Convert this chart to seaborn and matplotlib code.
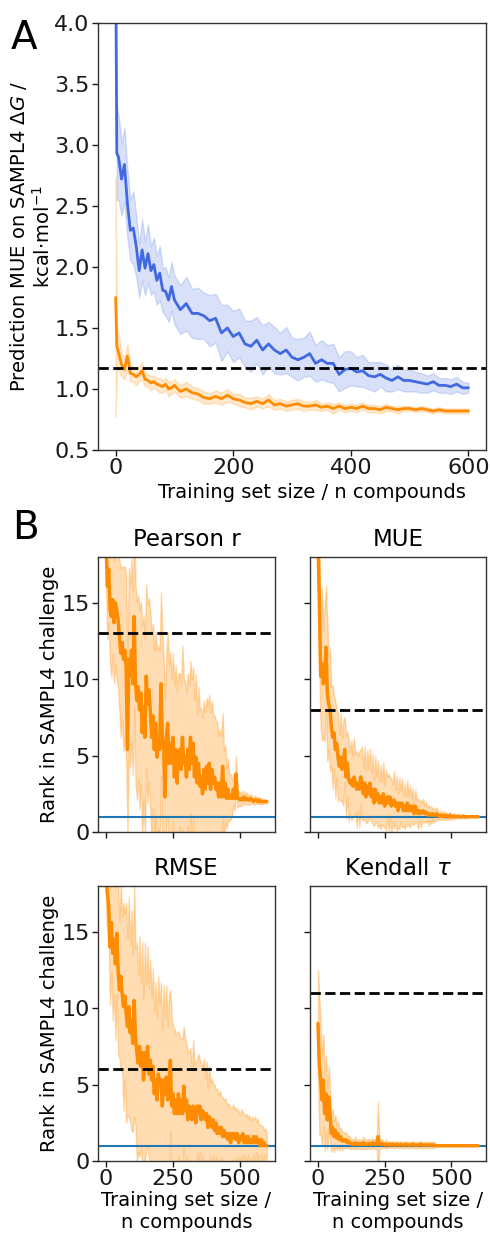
import pandas as pd
from matplotlib import pyplot as plt
import seaborn as sns
import numpy as np

# ---- panel A: MUE vs training set size ----
n_a = [0, 2] + list(range(5, 101, 5)) + list(range(110, 601, 10))

mue_blue = [4.6, 2.93, 2.90, 2.72, 2.84, 2.52, 2.30, 2.32, 2.17, 1.97, 2.14, 1.99,
            2.11, 1.97, 2.02, 1.89, 1.95, 1.81, 1.80, 1.73, 1.84, 1.73,
            1.65, 1.70, 1.62, 1.62, 1.60, 1.56, 1.58, 1.46, 1.50, 1.43,
            1.46, 1.37, 1.35, 1.40, 1.32, 1.37, 1.32, 1.29, 1.32, 1.26,
            1.24, 1.26, 1.29, 1.21, 1.24, 1.21, 1.21, 1.12, 1.16, 1.17,
            1.14, 1.15, 1.11, 1.10, 1.12, 1.09, 1.07, 1.10, 1.07, 1.07,
            1.06, 1.05, 1.04, 1.06, 1.03, 1.03, 1.02, 1.04, 1.01, 1.01]
sd_blue = [0.6, 0.38, 0.35, 0.3, 0.3, 0.28, 0.25, 0.3, 0.25, 0.22, 0.25, 0.22,
           0.24, 0.2, 0.22, 0.2, 0.22, 0.18, 0.2, 0.18, 0.2, 0.2,
           0.2, 0.22, 0.2, 0.21, 0.19, 0.21, 0.2, 0.23, 0.19, 0.21,
           0.2, 0.19, 0.21, 0.19, 0.2, 0.18, 0.19, 0.17, 0.19, 0.16,
           0.17, 0.16, 0.18, 0.15, 0.16, 0.15, 0.16, 0.14, 0.15, 0.14,
           0.12, 0.13, 0.11, 0.12, 0.1, 0.11, 0.09, 0.1, 0.09, 0.09,
           0.08, 0.08, 0.07, 0.07, 0.06, 0.06, 0.06, 0.06, 0.05, 0.04]
mue_orange = [1.75, 1.35, 1.30, 1.20, 1.16, 1.27, 1.13, 1.12, 1.10, 1.12, 1.15, 1.08,
              1.07, 1.05, 1.06, 1.04, 1.03, 1.02, 1.04, 1.00, 1.01, 1.03,
              0.98, 1.00, 0.97, 0.96, 0.93, 0.92, 0.94, 0.92, 0.95, 0.92,
              0.91, 0.89, 0.88, 0.90, 0.88, 0.91, 0.87, 0.88, 0.86, 0.87,
              0.88, 0.86, 0.86, 0.87, 0.85, 0.86, 0.84, 0.86, 0.84, 0.85,
              0.84, 0.86, 0.84, 0.84, 0.83, 0.85, 0.84, 0.83, 0.84, 0.84,
              0.83, 0.84, 0.83, 0.82, 0.83, 0.82, 0.82, 0.82, 0.82, 0.82]
sd_orange = [0.98, 0.18, 0.15, 0.1, 0.08, 0.1, 0.07, 0.06, 0.07, 0.06, 0.07, 0.06,
             0.05, 0.06, 0.05, 0.05, 0.06, 0.05, 0.05, 0.06, 0.05, 0.05,
             0.05, 0.06, 0.05, 0.05, 0.05, 0.04, 0.05, 0.05, 0.05, 0.04,
             0.05, 0.04, 0.05, 0.04, 0.04, 0.05, 0.04, 0.04, 0.04, 0.04,
             0.04, 0.04, 0.03, 0.04, 0.03, 0.03, 0.04, 0.03, 0.03, 0.03,
             0.03, 0.03, 0.03, 0.03, 0.03, 0.03, 0.02, 0.03, 0.02, 0.02,
             0.02, 0.02, 0.02, 0.02, 0.02, 0.02, 0.02, 0.02, 0.02, 0.02]
sampl4_best_mue = 1.175

# ---- panel B: rank in SAMPL4 challenge ----
n_b = list(range(0, 601, 5))

rank_pearson = [19.0, 16.1, 17.2, 14.5, 14.1, 15.2, 13.7, 15.0, 14.5, 13.9,
                12.8, 11.7, 12.4, 11.3, 11.9, 10.8, 5.4, 11.3, 10.2, 11.9,
                9.7, 14.1, 9.7, 8.6, 9.5, 8.0, 9.1, 6.5, 8.2, 6.2,
                10.2, 8.4, 9.3, 8.0, 6.2, 7.6, 5.4, 7.1, 4.9, 6.2,
                5.4, 9.7, 6.2, 5.4, 2.3, 6.2, 7.1, 4.5, 5.8, 4.5,
                6.2, 3.6, 5.4, 3.2, 4.9, 5.4, 4.1, 6.2, 4.5, 4.9,
                3.6, 5.4, 4.1, 6.2, 4.5, 5.8, 3.6, 4.9, 3.2, 4.5,
                3.0, 3.6, 2.5, 4.1, 2.8, 4.3, 3.2, 4.5, 2.8, 4.1,
                3.2, 3.6, 2.8, 3.2, 2.3, 3.2, 2.3, 4.3, 2.3, 3.2,
                2.2, 2.8, 2.2, 2.3, 2.2, 2.8, 2.2, 3.8, 2.2, 2.2,
                2.1, 2.2, 2.1, 2.3, 2.1, 2.2, 2.1, 2.1, 2.2, 2.1,
                2.0, 2.1, 2.1, 2.0, 2.1, 2.0, 2.0, 2.0, 2.0, 2.0, 2.0]
sd_pearson = [3, 3.5, 3.5, 3.5, 4, 3.5, 4, 4, 4.5, 4.5,
              5, 5.5, 5, 6, 5.5, 6, 5.5, 6, 6, 6,
              6, 6, 6.5, 6.5, 6, 6.5, 6, 7, 6, 6.5,
              6, 6.5, 6, 6.5, 7, 6, 6.5, 6, 7, 6,
              6.5, 6, 7, 6, 6.5, 5.5, 6, 6.5, 6, 5.5,
              5.5, 6, 5.5, 6, 5.5, 5, 5.5, 6, 5.5, 5,
              5.5, 5, 5.5, 5, 5.5, 5, 5, 5.5, 4.5, 5,
              5, 4.5, 5, 4.5, 5, 4.5, 5, 4.5, 5, 4.5,
              4.5, 4, 4.5, 4, 4, 3.5, 4, 3.5, 3, 2.5,
              2, 2, 1.5, 1.5, 1.2, 1, 0.8, 1.2, 0.6, 0.5,
              0.4, 0.5, 0.3, 0.4, 0.3, 0.4, 0.3, 0.3, 0.3, 0.2,
              0.2, 0.3, 0.2, 0.2, 0.2, 0.2, 0.2, 0.15, 0.15, 0.1, 0.1]

rank_mue = [19.0, 15.0, 10.2, 11.0, 9.7, 10.4, 12.1, 9.1, 8.4, 8.0,
            6.9, 6.2, 6.5, 5.4, 5.8, 4.9, 4.3, 4.9, 4.1, 4.5,
            5.4, 3.6, 4.5, 3.4, 3.2, 3.4, 3.0, 3.6, 3.2, 2.8,
            3.2, 2.8, 3.6, 3.2, 2.5, 3.2, 2.3, 3.0, 2.5, 3.2,
            2.3, 2.8, 1.9, 2.8, 2.1, 2.5, 1.9, 2.3, 1.9, 2.5,
            1.7, 2.1, 2.3, 1.9, 2.3, 1.7, 1.9, 2.1, 1.7, 1.9,
            1.4, 1.9, 1.7, 1.9, 1.4, 1.7, 1.4, 1.9, 1.4, 1.7,
            1.4, 1.7, 1.2, 1.7, 1.4, 1.2, 1.4, 1.2, 1.3, 1.4,
            1.2, 1.3, 1.2, 1.1, 1.2, 1.1, 1.2, 1.1, 1.1, 1.2,
            1.1, 1.0, 1.1, 1.0, 1.1, 1.0, 1.1, 1.0, 1.0, 1.1,
            1.0, 1.0, 1.05, 1.0, 1.0, 1.05, 1.0, 1.0, 1.0, 1.05,
            1.0, 1.0, 1.0, 1.0, 1.0, 1.0, 1.0, 1.0, 1.0, 1.0, 1.0]
sd_mue = [3, 4.5, 3.5, 5, 3.5, 4.5, 4, 4.5, 3, 4,
          2.6, 3.4, 2.4, 3.2, 2.2, 2.9, 2.1, 2.9, 2.0, 2.8,
          2.1, 2.7, 2.1, 2.7, 2.0, 2.6, 2.0, 2.6, 1.9, 2.5,
          1.8, 2.5, 1.8, 2.4, 1.7, 2.4, 1.7, 2.4, 1.6, 2.3,
          1.6, 2.3, 1.5, 2.2, 1.5, 2.2, 1.4, 2.1, 1.4, 2.1,
          1.4, 2.0, 1.3, 1.9, 1.3, 1.8, 1.2, 1.9, 1.1, 1.8,
          1.1, 1.7, 1.0, 1.6, 1.0, 1.5, 0.9, 1.5, 0.9, 1.4,
          0.8, 1.2, 0.7, 1.1, 0.7, 1.0, 0.6, 0.9, 0.6, 0.8,
          0.5, 0.7, 0.4, 0.7, 0.4, 0.6, 0.3, 0.5, 0.3, 0.4,
          0.3, 0.2, 0.3, 0.2, 0.3, 0.2, 0.2, 0.2, 0.2, 0.2,
          0.2, 0.1, 0.2, 0.1, 0.1, 0.1, 0.1, 0.1, 0.1, 0.1,
          0.1, 0.1, 0.1, 0.0, 0.0, 0.0, 0.0, 0.0, 0.0, 0.0, 0.0]

rank_rmse = [18.5, 17.5, 16.7, 14.0, 15.6, 13.6, 14.5, 12.9, 14.9, 12.5,
             11.2, 12.1, 11.0, 10.1, 10.8, 9.7, 8.8, 10.1, 8.4, 9.2,
             7.7, 10.5, 8.1, 7.1, 6.4, 7.5, 6.2, 7.1, 5.3, 7.1,
             6.2, 7.5, 5.7, 6.6, 5.3, 6.2, 4.4, 5.3, 4.0, 5.7,
             5.1, 5.3, 3.6, 5.3, 4.4, 5.5, 4.0, 4.9, 6.6, 3.6,
             4.4, 3.1, 4.0, 3.1, 4.4, 3.1, 4.0, 3.1, 4.9, 3.3,
             4.0, 2.7, 3.6, 3.1, 2.7, 3.6, 3.1, 2.5, 3.6, 3.1,
             3.6, 2.7, 3.3, 3.1, 2.7, 3.1, 2.2, 2.9, 2.7, 2.2,
             2.7, 2.0, 2.5, 1.8, 2.2, 1.8, 2.2, 1.6, 2.0, 1.6,
             1.8, 1.4, 1.8, 1.2, 1.8, 1.5, 1.8, 1.4, 1.8, 1.2,
             1.6, 1.4, 1.8, 1.2, 1.6, 1.2, 1.6, 1.2, 1.4, 1.2,
             1.6, 1.2, 1.6, 1.2, 1.4, 1.0, 1.4, 1.0, 1.2, 1.0, 1.0]
sd_rmse = [2, 2.8, 2.6, 3.8, 3.2, 4.4, 3.6, 5, 4, 5.5,
           4.5, 6.2, 5, 6.8, 5.4, 7.2, 5.8, 7.2, 5.8, 7.2,
           5.8, 7.6, 5.8, 7.2, 5.8, 7.2, 5.4, 7.2, 5.4, 7.2,
           5.4, 6.6, 5.6, 6.6, 5.4, 6.4, 5.4, 6.4, 5.4, 6.4,
           5.2, 6.4, 5, 6.2, 5, 6, 4.8, 6, 4.6, 5.8,
           4.4, 5.6, 4.3, 5.3, 4.1, 5.1, 4, 4.9, 3.9, 4.7,
           3.7, 4.5, 3.5, 4.3, 3.3, 4.3, 3.2, 4, 3.1, 3.9,
           3, 3.7, 2.9, 3.6, 2.7, 3.4, 2.6, 3.3, 2.4, 3.2,
           2.3, 3, 2.2, 2.9, 2.1, 2.8, 2, 2.6, 2, 2.5,
           1.9, 2.4, 1.8, 2.3, 1.7, 2.2, 1.6, 2.1, 1.5, 2.1,
           1.4, 2, 1.4, 1.9, 1.3, 1.9, 1.2, 1.8, 1.2, 1.7,
           1.1, 1.7, 1.0, 1.6, 1.0, 1.4, 0.9, 1.3, 0.8, 1.1, 0.8]

rank_kendall = [9.0, 6.2, 5.3, 4.0, 5.3, 3.1, 4.4, 2.7, 4.2, 3.1,
                1.8, 2.2, 1.6, 2.0, 1.5, 1.8, 1.4, 1.6, 1.3, 1.4,
                1.3, 1.4, 1.2, 1.3, 1.2,
                1.1, 1.15, 1.1, 1.2, 1.1, 1.1, 1.15, 1.1, 1.1, 1.2,
                1.1, 1.1, 1.1, 1.15, 1.1, 1.1, 1.2, 1.1, 1.1, 1.1,
                1.6,
                1.1, 1.1, 1.15, 1.1, 1.05, 1.1, 1.1, 1.05, 1.1, 1.05,
                1.1, 1.05, 1.05, 1.1, 1.05, 1.05, 1.1, 1.05, 1.05, 1.05,
                1.1, 1.05, 1.05, 1.05, 1.05, 1.1, 1.05, 1.05, 1.05, 1.05,
                1.05, 1.1, 1.05, 1.05, 1.05, 1.05, 1.05, 1.05, 1.05, 1.05,
                1.05, 1.05, 1.0,
                1.0, 1.0, 1.0, 1.0, 1.0, 1.0, 1.0, 1.0, 1.0, 1.0,
                1.0, 1.0, 1.0, 1.0, 1.0, 1.0, 1.0, 1.0, 1.0, 1.0,
                1.0, 1.0, 1.0, 1.0, 1.0, 1.0, 1.0, 1.0, 1.0, 1.0,
                1.0, 1.0]
sd_kendall = [3.5, 4.5, 3.5, 3, 3, 2.5, 2.5, 2, 2, 1.8,
              1.2, 1.2, 1, 1, 0.8, 0.8, 0.7, 0.6, 0.6, 0.5,
              0.5, 0.5, 0.4, 0.4, 0.4,
              0.3, 0.3, 0.3, 0.4, 0.3, 0.3, 0.3, 0.3, 0.3, 0.4,
              0.3, 0.3, 0.3, 0.3, 0.3, 0.3, 0.3, 0.3, 0.3, 0.3,
              2.3,
              0.3, 0.3, 0.3, 0.2, 0.2, 0.3, 0.2, 0.2, 0.2, 0.2,
              0.2, 0.2, 0.2, 0.2, 0.2, 0.2, 0.2, 0.2, 0.2, 0.2,
              0.2, 0.2, 0.2, 0.2, 0.2, 0.2, 0.2, 0.2, 0.2, 0.2,
              0.2, 0.2, 0.2, 0.2, 0.2, 0.2, 0.2, 0.2, 0.2, 0.2,
              0.2, 0.2, 0.1,
              0, 0, 0, 0, 0, 0, 0, 0, 0, 0,
              0, 0, 0, 0, 0, 0, 0, 0, 0, 0,
              0, 0, 0, 0, 0, 0, 0, 0, 0, 0,
              0, 0]

metric_titles = ['Pearson r', 'MUE', 'RMSE', r'Kendall $\tau$']
metric_ranks = [rank_pearson, rank_mue, rank_rmse, rank_kendall]
metric_sds = [sd_pearson, sd_mue, sd_rmse, sd_kendall]
baseline_ranks = [13, 8, 6, 11]
best_rank = 1

sns.set_style('ticks', {'axes.edgecolor': '0.2', 'xtick.color': '0.1', 'ytick.color': '0.1',
                        'text.color': 'black', 'axes.labelcolor': 'black'})
plt.rcParams['font.family'] = ['DejaVu Sans']
plt.rcParams['mathtext.fontset'] = 'dejavusans'
plt.rcParams['axes.linewidth'] = 1.0
plt.rcParams['xtick.major.size'] = 4
plt.rcParams['ytick.major.size'] = 4
plt.rcParams['xtick.major.width'] = 1.0
plt.rcParams['ytick.major.width'] = 1.0

TICK = 16
LABEL = 14
TITLE = 16.5

fig = plt.figure(figsize=(4.9, 12.35), dpi=100)

# panel A
axA = fig.add_axes([0.2, 0.6356, 0.792, 0.3458])
dfa = pd.DataFrame({'n': n_a, 'blue': mue_blue, 'sb': sd_blue,
                    'orange': mue_orange, 'so': sd_orange})
axA.fill_between(dfa['n'], dfa['blue'] - dfa['sb'], dfa['blue'] + dfa['sb'],
                 color='royalblue', alpha=0.2, lw=1)
sns.lineplot(data=dfa, x='n', y='blue', ax=axA, color='royalblue', lw=2)
axA.fill_between(dfa['n'], dfa['orange'] - dfa['so'], dfa['orange'] + dfa['so'],
                 color='darkorange', alpha=0.2, lw=1)
sns.lineplot(data=dfa, x='n', y='orange', ax=axA, color='darkorange', lw=2)
axA.axhline(sampl4_best_mue, color='black', ls='--', lw=2)
axA.set_ylim(0.5, 4.0)
axA.set_xlim(-30, 630)
axA.set_xticks([0, 200, 400, 600])
axA.set_yticks(np.arange(0.5, 4.01, 0.5))
axA.tick_params(labelsize=TICK, pad=2)
axA.set_xlabel('Training set size / n compounds', fontsize=LABEL, labelpad=3)
axA.xaxis.label.set_x(0.55)
axA.set_ylabel('Prediction MUE on SAMPL4 $\\Delta G$ /\nkcal$\\cdot$mol$^{-1}$',
               fontsize=LABEL, labelpad=0)
fig.text(0.022, 0.985, 'A', fontsize=28, va='top', ha='left')

# panel B
positions = [[0.2, 0.3263, 0.361, 0.2227], [0.6327, 0.3263, 0.359, 0.2227],
             [0.2, 0.0599, 0.361, 0.2227], [0.6327, 0.0599, 0.359, 0.2227]]
for i, (title, rank, sd, base) in enumerate(zip(metric_titles, metric_ranks,
                                                metric_sds, baseline_ranks)):
    ax = fig.add_axes(positions[i])
    dfb = pd.DataFrame({'n': n_b, 'rank': rank, 'sd': sd})
    ax.axhline(best_rank, color='tab:blue', lw=1.5)
    ax.fill_between(dfb['n'], dfb['rank'] - dfb['sd'], dfb['rank'] + dfb['sd'],
                    color='darkorange', alpha=0.3, lw=1)
    sns.lineplot(data=dfb, x='n', y='rank', ax=ax, color='darkorange', lw=2.5)
    ax.axhline(base, color='black', ls='--', lw=2)
    ax.set_xlim(-30, 630)
    ax.set_ylim(0, 18)
    ax.set_xticks([0, 250, 500])
    ax.set_yticks([0, 5, 10, 15])
    ax.tick_params(labelsize=TICK, pad=2)
    ax.set_title(title, fontsize=TITLE, pad=8)
    if i % 2 == 0:
        ax.set_ylabel('Rank in SAMPL4 challenge', fontsize=LABEL, labelpad=2)
    else:
        ax.set_ylabel('')
        ax.tick_params(labelleft=False)
    if i < 2:
        ax.set_xlabel('')
        ax.tick_params(labelbottom=False)
    else:
        ax.set_xlabel('Training set size /\nn compounds', fontsize=LABEL, labelpad=1)
fig.text(0.024, 0.588, 'B', fontsize=28, va='top', ha='left')

plt.savefig('out.png', dpi=100)
plt.close()
